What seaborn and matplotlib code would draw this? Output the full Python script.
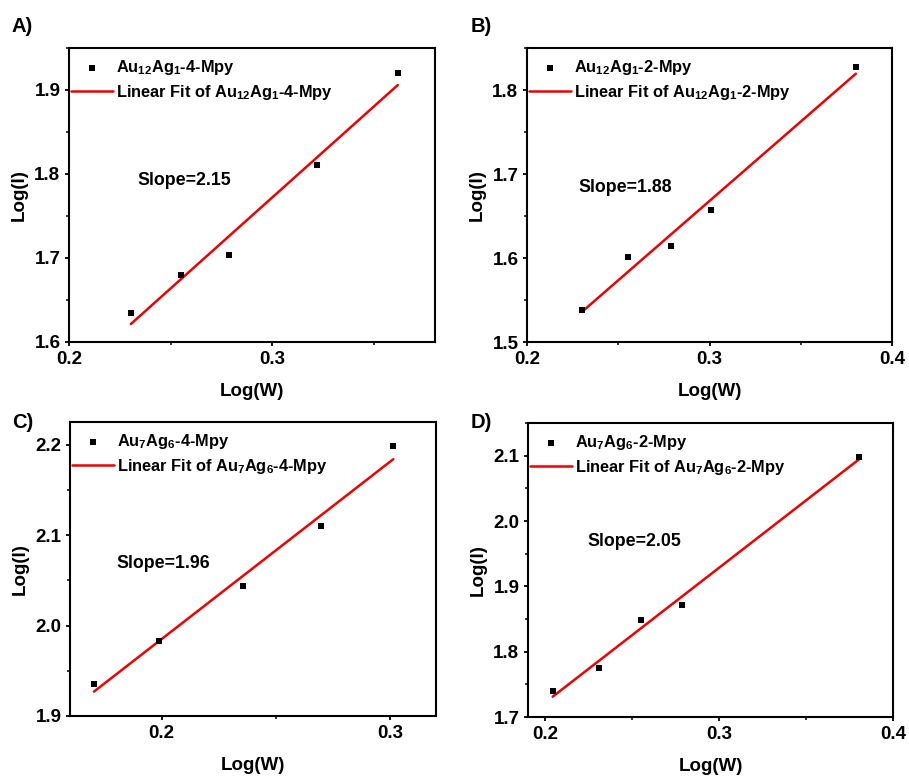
import numpy as np
import pandas as pd
import matplotlib
matplotlib.use("Agg")
import matplotlib.pyplot as plt
from matplotlib.ticker import MultipleLocator
import seaborn as sns

# ---- data ----
a_x = [0.2304, 0.2553, 0.2788, 0.3222, 0.3617]
a_y = [1.635, 1.680, 1.703, 1.811, 1.920]
b_x = [0.2304, 0.2553, 0.2788, 0.3010, 0.3802]
b_y = [1.538, 1.601, 1.614, 1.657, 1.827]
c_x = [0.1705, 0.1988, 0.2357, 0.2696, 0.3013]
c_y = [1.935, 1.983, 2.044, 2.110, 2.198]
d_x = [0.2042, 0.2307, 0.2553, 0.2788, 0.3802]
d_y = [1.740, 1.775, 1.848, 1.871, 2.098]

names = [r"Au$_{12}$Ag$_{1}$-4-Mpy", r"Au$_{12}$Ag$_{1}$-2-Mpy",
         r"Au$_{7}$Ag$_{6}$-4-Mpy", r"Au$_{7}$Ag$_{6}$-2-Mpy"]
slopes = ["Slope=2.15", "Slope=1.88", "Slope=1.96", "Slope=2.05"]
panel_labels = ["A)", "B)", "C)", "D)"]

sns.set_style("ticks")
plt.rcParams["font.family"] = ["Liberation Sans", "DejaVu Sans"]
plt.rcParams["font.weight"] = "bold"
plt.rcParams["axes.labelweight"] = "bold"
plt.rcParams["text.color"] = "black"
plt.rcParams["axes.labelcolor"] = "black"
plt.rcParams["xtick.color"] = "black"
plt.rcParams["ytick.color"] = "black"
plt.rcParams["mathtext.fontset"] = "custom"
plt.rcParams["mathtext.rm"] = "Liberation Sans:bold"
plt.rcParams["mathtext.it"] = "Liberation Sans:bold"
plt.rcParams["mathtext.bf"] = "Liberation Sans:bold"
plt.rcParams["mathtext.default"] = "bf"

W, H = 909, 778
fig = plt.figure(figsize=(W / 100, H / 100), dpi=100)

# pixel boxes: left, right, top, bottom
boxes = [(69, 435, 48, 342), (527, 892, 48, 342),
         (70, 436, 422, 716), (528, 893, 423, 717)]
xlims = [(0.2, 0.38), (0.2, 0.4), (0.16, 0.32), (0.19, 0.4)]
ylims = [(1.6, 1.95), (1.5, 1.85), (1.9, 2.225), (1.7, 2.15)]
slope_pos = [(0.186, 0.548), (0.142, 0.527), (0.126, 0.52), (0.164, 0.597)]
label_px = [(12, 26), (471, 26), (12, 423), (471, 423)]

data = [(a_x, a_y), (b_x, b_y), (c_x, c_y), (d_x, d_y)]

for i, ((xs, ys), (l, r, t, b)) in enumerate(zip(data, boxes)):
    ax = fig.add_axes([l / W, 1 - b / H, (r - l) / W, (b - t) / H])
    df = pd.DataFrame({"x": xs, "y": ys})
    sns.regplot(data=df, x="x", y="y", ax=ax, ci=None, marker="s",
                scatter_kws=dict(color="black", s=24, linewidths=0,
                                 alpha=1, zorder=3),
                line_kws=dict(color="#ee0000", lw=1.8, zorder=2))
    ax.set_xlim(*xlims[i])
    ax.set_ylim(*ylims[i])
    ax.xaxis.set_major_locator(MultipleLocator(0.1))
    ax.xaxis.set_minor_locator(MultipleLocator(0.05))
    ax.yaxis.set_major_locator(MultipleLocator(0.1))
    ax.yaxis.set_minor_locator(MultipleLocator(0.05))
    ax.tick_params(which="major", direction="out", length=3.2, width=1.3,
                   labelsize=13.5, pad=3, color="black", labelcolor="black")
    ax.tick_params(which="minor", direction="out", length=2, width=1.1,
                   color="black")
    for lab in ax.get_xticklabels() + ax.get_yticklabels():
        lab.set_fontweight("bold")
    for sp in ax.spines.values():
        sp.set_linewidth(1.5)
        sp.set_color("black")
        sp.set_visible(True)
    ax.set_xlabel("Log(W)", fontsize=13.5, fontweight="bold", color="black")
    ax.set_ylabel("Log(I)", fontsize=13.5, fontweight="bold", color="black")
    ax.xaxis.set_label_coords(0.5, -0.14)
    ax.yaxis.set_label_coords(-0.112, 0.5)

    sc_handle = ax.collections[0]
    ln_handle = ax.lines[0]
    leg = ax.legend([sc_handle, ln_handle],
                    [names[i], "Linear Fit of " + names[i]],
                    loc="upper left", bbox_to_anchor=(0.005, 0.965),
                    frameon=False, fontsize=11.8, borderpad=0,
                    borderaxespad=0, handlelength=2.6, handletextpad=0.15,
                    labelspacing=0.33, scatterpoints=1)
    for txt in leg.get_texts():
        txt.set_fontweight("bold")
        txt.set_color("black")

    ax.text(*slope_pos[i], slopes[i], transform=ax.transAxes, fontsize=12.8,
            fontweight="bold", va="center", ha="left", color="black")

    px, py = label_px[i]
    fig.text(px / W, 1 - py / H, panel_labels[i], fontsize=14.5,
             fontweight="bold", va="center", ha="left", color="black")

fig.savefig("out.png", dpi=100, facecolor="white")
